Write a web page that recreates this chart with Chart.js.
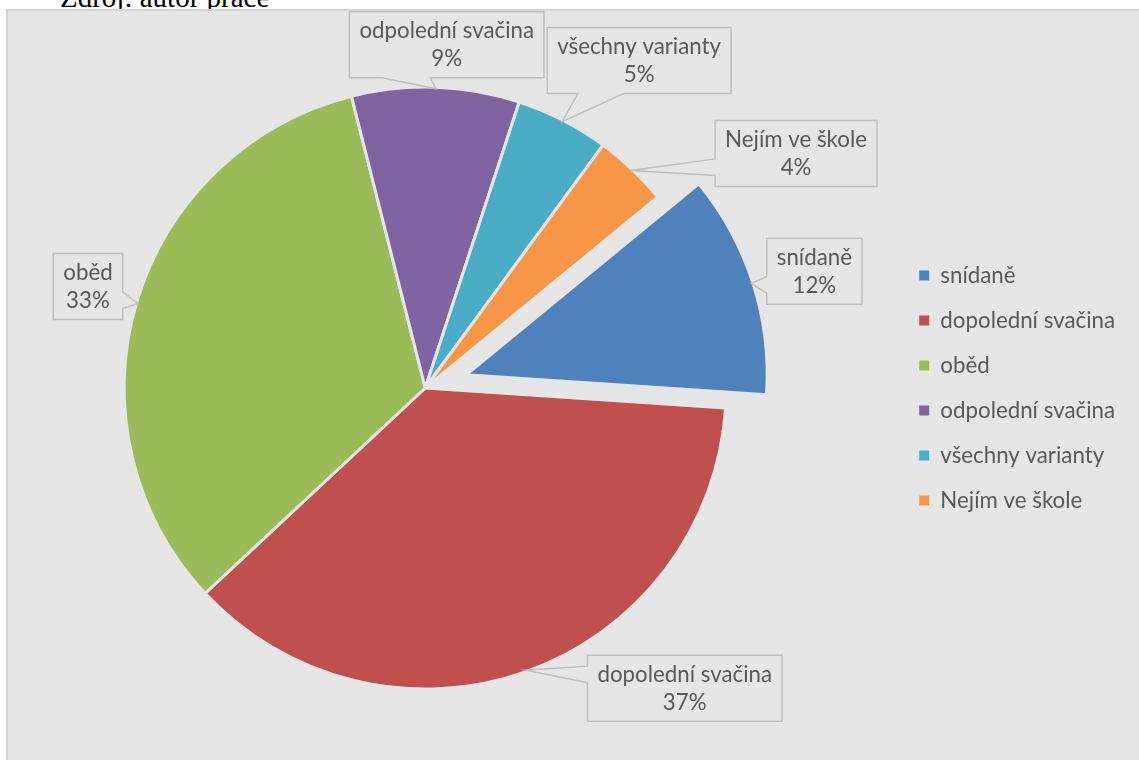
<!DOCTYPE html>
<html lang="cs">
<head>
<meta charset="utf-8">
<title>Stravování ve škole</title>
<script src="https://cdn.jsdelivr.net/npm/chart.js@4.4.1/dist/chart.umd.min.js"></script>
<style>
  html, body { margin: 0; padding: 0; background: #fff; overflow: hidden; }
  #source {
    position: absolute; left: 60px; top: -17px;
    font: 29px "Liberation Serif", "Times New Roman", serif; line-height: 29px;
    color: #000; white-space: nowrap;
  }
  #frame {
    position: absolute; left: 6px; top: 9px; width: 1200px; height: 800px;
    background: #e6e6e6; border: 2px solid #d4d4d4;
  }
  /* canvas starts a bit left of the page so the pie sits left of centre */
  #wrap { position: absolute; left: -46px; top: 0; width: 1185px; height: 760px; }
</style>
</head>
<body>
<div id="source">Zdroj: autor práce</div>
<div id="frame"></div>
<div id="wrap"><canvas id="mealChart" width="1185" height="760"></canvas></div>
<script>
const categories = ['snídaně', 'dopolední svačina', 'oběd', 'odpolední svačina', 'všechny varianty', 'Nejím ve škole'];
const shares = [12, 37, 33, 9, 5, 4];
const sliceColors = ['#4f81bd', '#c0504d', '#9bbb59', '#8064a2', '#4bacc6', '#f79646'];

// breakfast slice is pulled out of the pie (px)
const explode = [43, 0, 0, 0, 0, 0];
// callout box centre relative to the point where the callout touches its slice
const calloutShift = [[63, -12], [159, 18], [-50, -17], [11, -44], [77, -61], [165, -17]];

const BG = '#e6e6e6';
const TEXT = '#595959';
const FONT = 'Lato, "Open Sans", sans-serif';
const FONT_SIZE = 22.3;

// rectangle with a wedge pointing at (tx, ty), same rules as the office callout shape
function calloutPath(ctx, l, t, w, h, tx, ty) {
  const cx = l + w / 2, cy = t + h / 2;
  const dx = (tx - cx) / w, dy = (ty - cy) / h;
  const r = l + w, b = t + h;
  const side = Math.abs(dx) > Math.abs(dy) ? (dx > 0 ? 'right' : 'left') : (dy > 0 ? 'bottom' : 'top');
  const hx = tx < cx ? [l + w * 2 / 12, l + w * 5 / 12] : [l + w * 7 / 12, l + w * 10 / 12];
  const vy = ty < cy ? [t + h * 2 / 12, t + h * 5 / 12] : [t + h * 7 / 12, t + h * 10 / 12];

  ctx.beginPath();
  ctx.moveTo(l, t);
  if (side === 'top') { ctx.lineTo(hx[0], t); ctx.lineTo(tx, ty); ctx.lineTo(hx[1], t); }
  ctx.lineTo(r, t);
  if (side === 'right') { ctx.lineTo(r, vy[0]); ctx.lineTo(tx, ty); ctx.lineTo(r, vy[1]); }
  ctx.lineTo(r, b);
  if (side === 'bottom') { ctx.lineTo(hx[1], b); ctx.lineTo(tx, ty); ctx.lineTo(hx[0], b); }
  ctx.lineTo(l, b);
  if (side === 'left') { ctx.lineTo(l, vy[1]); ctx.lineTo(tx, ty); ctx.lineTo(l, vy[0]); }
  ctx.closePath();
}

// moves exploded slices outwards along their middle angle
const explodePlugin = {
  id: 'explode',
  afterDatasetUpdate(chart, args) {
    args.meta.data.forEach((arc, i) => {
      if (!explode[i]) return;
      const mid = (arc.startAngle + arc.endAngle) / 2;
      arc.x += Math.cos(mid) * explode[i];
      arc.y += Math.sin(mid) * explode[i];
    });
  }
};

const calloutPlugin = {
  id: 'callouts',
  afterDatasetsDraw(chart) {
    const ctx = chart.ctx;
    const data = chart.data.datasets[0].data;
    const total = data.reduce((a, b) => a + b, 0);
    const meta = chart.getDatasetMeta(0);

    ctx.save();
    ctx.font = FONT_SIZE + 'px ' + FONT;
    ctx.textAlign = 'center';
    ctx.textBaseline = 'alphabetic';
    ctx.lineWidth = 1.5;
    ctx.strokeStyle = '#bfbfbf';

    meta.data.forEach((arc, i) => {
      const p = arc.getProps(['x', 'y', 'startAngle', 'endAngle', 'outerRadius'], true);
      const mid = (p.startAngle + p.endAngle) / 2;
      const reach = p.outerRadius - 1.5;
      const tx = p.x + Math.cos(mid) * reach;
      const ty = p.y + Math.sin(mid) * reach;

      const lines = [chart.data.labels[i], Math.round(data[i] / total * 100) + '%'];
      const w = Math.max(...lines.map(s => ctx.measureText(s).width)) + 20;
      const h = 66;
      const cx = tx + calloutShift[i][0];
      const cy = ty + calloutShift[i][1];

      calloutPath(ctx, cx - w / 2, cy - h / 2, w, h, tx, ty);
      ctx.fillStyle = BG;
      ctx.fill();
      ctx.stroke();

      ctx.fillStyle = TEXT;
      ctx.fillText(lines[0], cx, cy - 6.5);
      ctx.fillText(lines[1], cx, cy + 21.5);
    });
    ctx.restore();
  }
};

new Chart(document.getElementById('mealChart'), {
  type: 'pie',
  data: {
    labels: categories,
    datasets: [{
      data: shares,
      backgroundColor: sliceColors,
      borderColor: BG,
      borderWidth: 3,
      radius: 301
    }]
  },
  options: {
    responsive: false,
    animation: false,
    rotation: 50.6,
    layout: { padding: { left: 0, right: 14, top: 16, bottom: 0 } },
    plugins: {
      legend: {
        position: 'right',
        labels: {
          boxWidth: 10,
          boxHeight: 10,
          padding: 22.7,
          color: TEXT,
          font: { family: FONT, size: FONT_SIZE },
          generateLabels(chart) {
            return Chart.overrides.pie.plugins.legend.labels.generateLabels(chart)
              .map(item => ({ ...item, lineWidth: 0 }));
          }
        }
      },
      tooltip: { enabled: false }
    }
  },
  plugins: [explodePlugin, calloutPlugin]
});
</script>
</body>
</html>
